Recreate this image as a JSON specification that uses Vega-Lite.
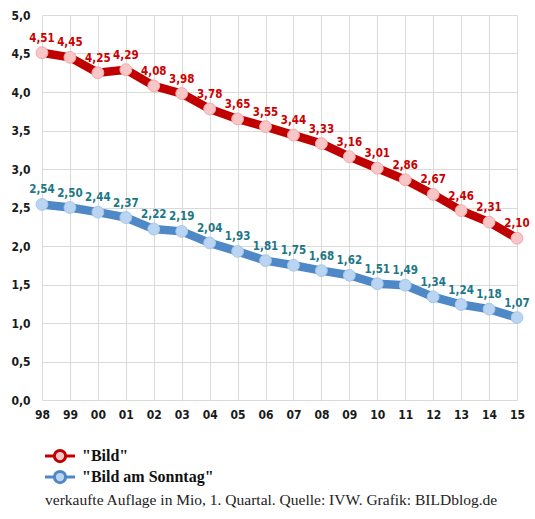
{
  "$schema": "https://vega.github.io/schema/vega-lite/v6.json",
  "description": "Bild und Bild am Sonntag, verkaufte Auflage 1998-2015",
  "autosize": "none",
  "width": 475,
  "height": 385,
  "padding": {"left": 42, "top": 15, "right": 18, "bottom": 119},
  "background": "white",
  "config": {
    "locale": {"number": {"decimal": ",", "thousands": ".", "grouping": [3], "currency": ["", " €"]}},
    "view": {"stroke": null}
  },
  "title": {
    "text": "verkaufte Auflage in Mio, 1. Quartal. Quelle: IVW. Grafik: BILDblog.de",
    "orient": "bottom",
    "anchor": "start",
    "frame": "group",
    "font": "Liberation Serif",
    "fontSize": 15.5,
    "fontWeight": "normal",
    "color": "#222222",
    "dx": 3,
    "offset": 4
  },
  "data": {
    "values": [
      {"year": "98", "series": "\"Bild\"", "value": 4.51},
      {"year": "99", "series": "\"Bild\"", "value": 4.45},
      {"year": "00", "series": "\"Bild\"", "value": 4.25},
      {"year": "01", "series": "\"Bild\"", "value": 4.29},
      {"year": "02", "series": "\"Bild\"", "value": 4.08},
      {"year": "03", "series": "\"Bild\"", "value": 3.98},
      {"year": "04", "series": "\"Bild\"", "value": 3.78},
      {"year": "05", "series": "\"Bild\"", "value": 3.65},
      {"year": "06", "series": "\"Bild\"", "value": 3.55},
      {"year": "07", "series": "\"Bild\"", "value": 3.44},
      {"year": "08", "series": "\"Bild\"", "value": 3.33},
      {"year": "09", "series": "\"Bild\"", "value": 3.16},
      {"year": "10", "series": "\"Bild\"", "value": 3.01},
      {"year": "11", "series": "\"Bild\"", "value": 2.86},
      {"year": "12", "series": "\"Bild\"", "value": 2.67},
      {"year": "13", "series": "\"Bild\"", "value": 2.46},
      {"year": "14", "series": "\"Bild\"", "value": 2.31},
      {"year": "15", "series": "\"Bild\"", "value": 2.10},
      {"year": "98", "series": "\"Bild am Sonntag\"", "value": 2.54},
      {"year": "99", "series": "\"Bild am Sonntag\"", "value": 2.50},
      {"year": "00", "series": "\"Bild am Sonntag\"", "value": 2.44},
      {"year": "01", "series": "\"Bild am Sonntag\"", "value": 2.37},
      {"year": "02", "series": "\"Bild am Sonntag\"", "value": 2.22},
      {"year": "03", "series": "\"Bild am Sonntag\"", "value": 2.19},
      {"year": "04", "series": "\"Bild am Sonntag\"", "value": 2.04},
      {"year": "05", "series": "\"Bild am Sonntag\"", "value": 1.93},
      {"year": "06", "series": "\"Bild am Sonntag\"", "value": 1.81},
      {"year": "07", "series": "\"Bild am Sonntag\"", "value": 1.75},
      {"year": "08", "series": "\"Bild am Sonntag\"", "value": 1.68},
      {"year": "09", "series": "\"Bild am Sonntag\"", "value": 1.62},
      {"year": "10", "series": "\"Bild am Sonntag\"", "value": 1.51},
      {"year": "11", "series": "\"Bild am Sonntag\"", "value": 1.49},
      {"year": "12", "series": "\"Bild am Sonntag\"", "value": 1.34},
      {"year": "13", "series": "\"Bild am Sonntag\"", "value": 1.24},
      {"year": "14", "series": "\"Bild am Sonntag\"", "value": 1.18},
      {"year": "15", "series": "\"Bild am Sonntag\"", "value": 1.07}
    ]
  },
  "encoding": {
    "x": {
      "field": "year",
      "type": "ordinal",
      "sort": null,
      "scale": {"type": "point", "padding": 0},
      "axis": {
        "title": null,
        "domain": false,
        "ticks": false,
        "grid": true,
        "gridColor": "#dadada",
        "gridWidth": 1,
        "labelAngle": 0,
        "labelPadding": 9,
        "labelFont": "DejaVu Sans Condensed",
        "labelFontWeight": "bold",
        "labelFontSize": 12,
        "labelColor": "#1a1a1a"
      }
    },
    "y": {
      "field": "value",
      "type": "quantitative",
      "scale": {"domain": [0, 5], "nice": false},
      "axis": {
        "title": null,
        "domain": false,
        "ticks": false,
        "values": [0, 0.5, 1, 1.5, 2, 2.5, 3, 3.5, 4, 4.5, 5],
        "format": ".1f",
        "gridColor": "#dadada",
        "gridWidth": 1,
        "labelPadding": 12,
        "labelFont": "DejaVu Sans Condensed",
        "labelFontWeight": "bold",
        "labelFontSize": 12,
        "labelColor": "#1a1a1a"
      }
    }
  },
  "resolve": {"scale": {"color": "independent"}},
  "layer": [
    {
      "mark": {"type": "line", "strokeWidth": 8.5, "strokeJoin": "round", "strokeCap": "round"},
      "encoding": {
        "color": {
          "field": "series",
          "type": "nominal",
          "scale": {"domain": ["\"Bild\"", "\"Bild am Sonntag\""], "range": ["#c00000", "#4f88c6"]},
          "legend": {
            "title": null,
            "orient": "none",
            "legendX": 9,
            "legendY": 432,
            "symbolType": "M-2,0L-0.75,0M0.75,0L2,0M-0.75,0A0.75,0.75,0,1,1,0.75,0A0.75,0.75,0,1,1,-0.75,0Z",
            "symbolSize": 225,
            "symbolStrokeWidth": 3,
            "symbolOffset": 0,
            "rowPadding": -4,
            "labelOffset": 13,
            "labelFont": "Liberation Serif",
            "labelFontWeight": "bold",
            "labelFontSize": 16,
            "labelColor": "#111111",
            "encode": {
              "symbols": {
                "update": {
                  "fill": {"signal": "datum.value === '\"Bild\"' ? '#f8c6c6' : '#bad5f1'"},
                  "fillOpacity": {"value": 1}
                }
              }
            }
          }
        }
      }
    },
    {
      "mark": {"type": "point", "shape": "circle", "filled": true, "size": 140, "opacity": 1, "strokeWidth": 1},
      "encoding": {
        "fill": {
          "field": "series",
          "type": "nominal",
          "scale": {"domain": ["\"Bild\"", "\"Bild am Sonntag\""], "range": ["#f8c6c6", "#bad5f1"]},
          "legend": null
        },
        "stroke": {
          "field": "series",
          "type": "nominal",
          "scale": {"domain": ["\"Bild\"", "\"Bild am Sonntag\""], "range": ["#f4a9a9", "#a6c6ea"]},
          "legend": null
        }
      }
    },
    {
      "mark": {
        "type": "text",
        "dy": -14,
        "font": "DejaVu Sans Condensed",
        "fontWeight": "bold",
        "fontSize": 11.5
      },
      "encoding": {
        "text": {"field": "value", "type": "quantitative", "format": ".2f"},
        "color": {
          "field": "series",
          "type": "nominal",
          "scale": {"domain": ["\"Bild\"", "\"Bild am Sonntag\""], "range": ["#cc0000", "#1d7786"]},
          "legend": null
        }
      }
    }
  ]
}
